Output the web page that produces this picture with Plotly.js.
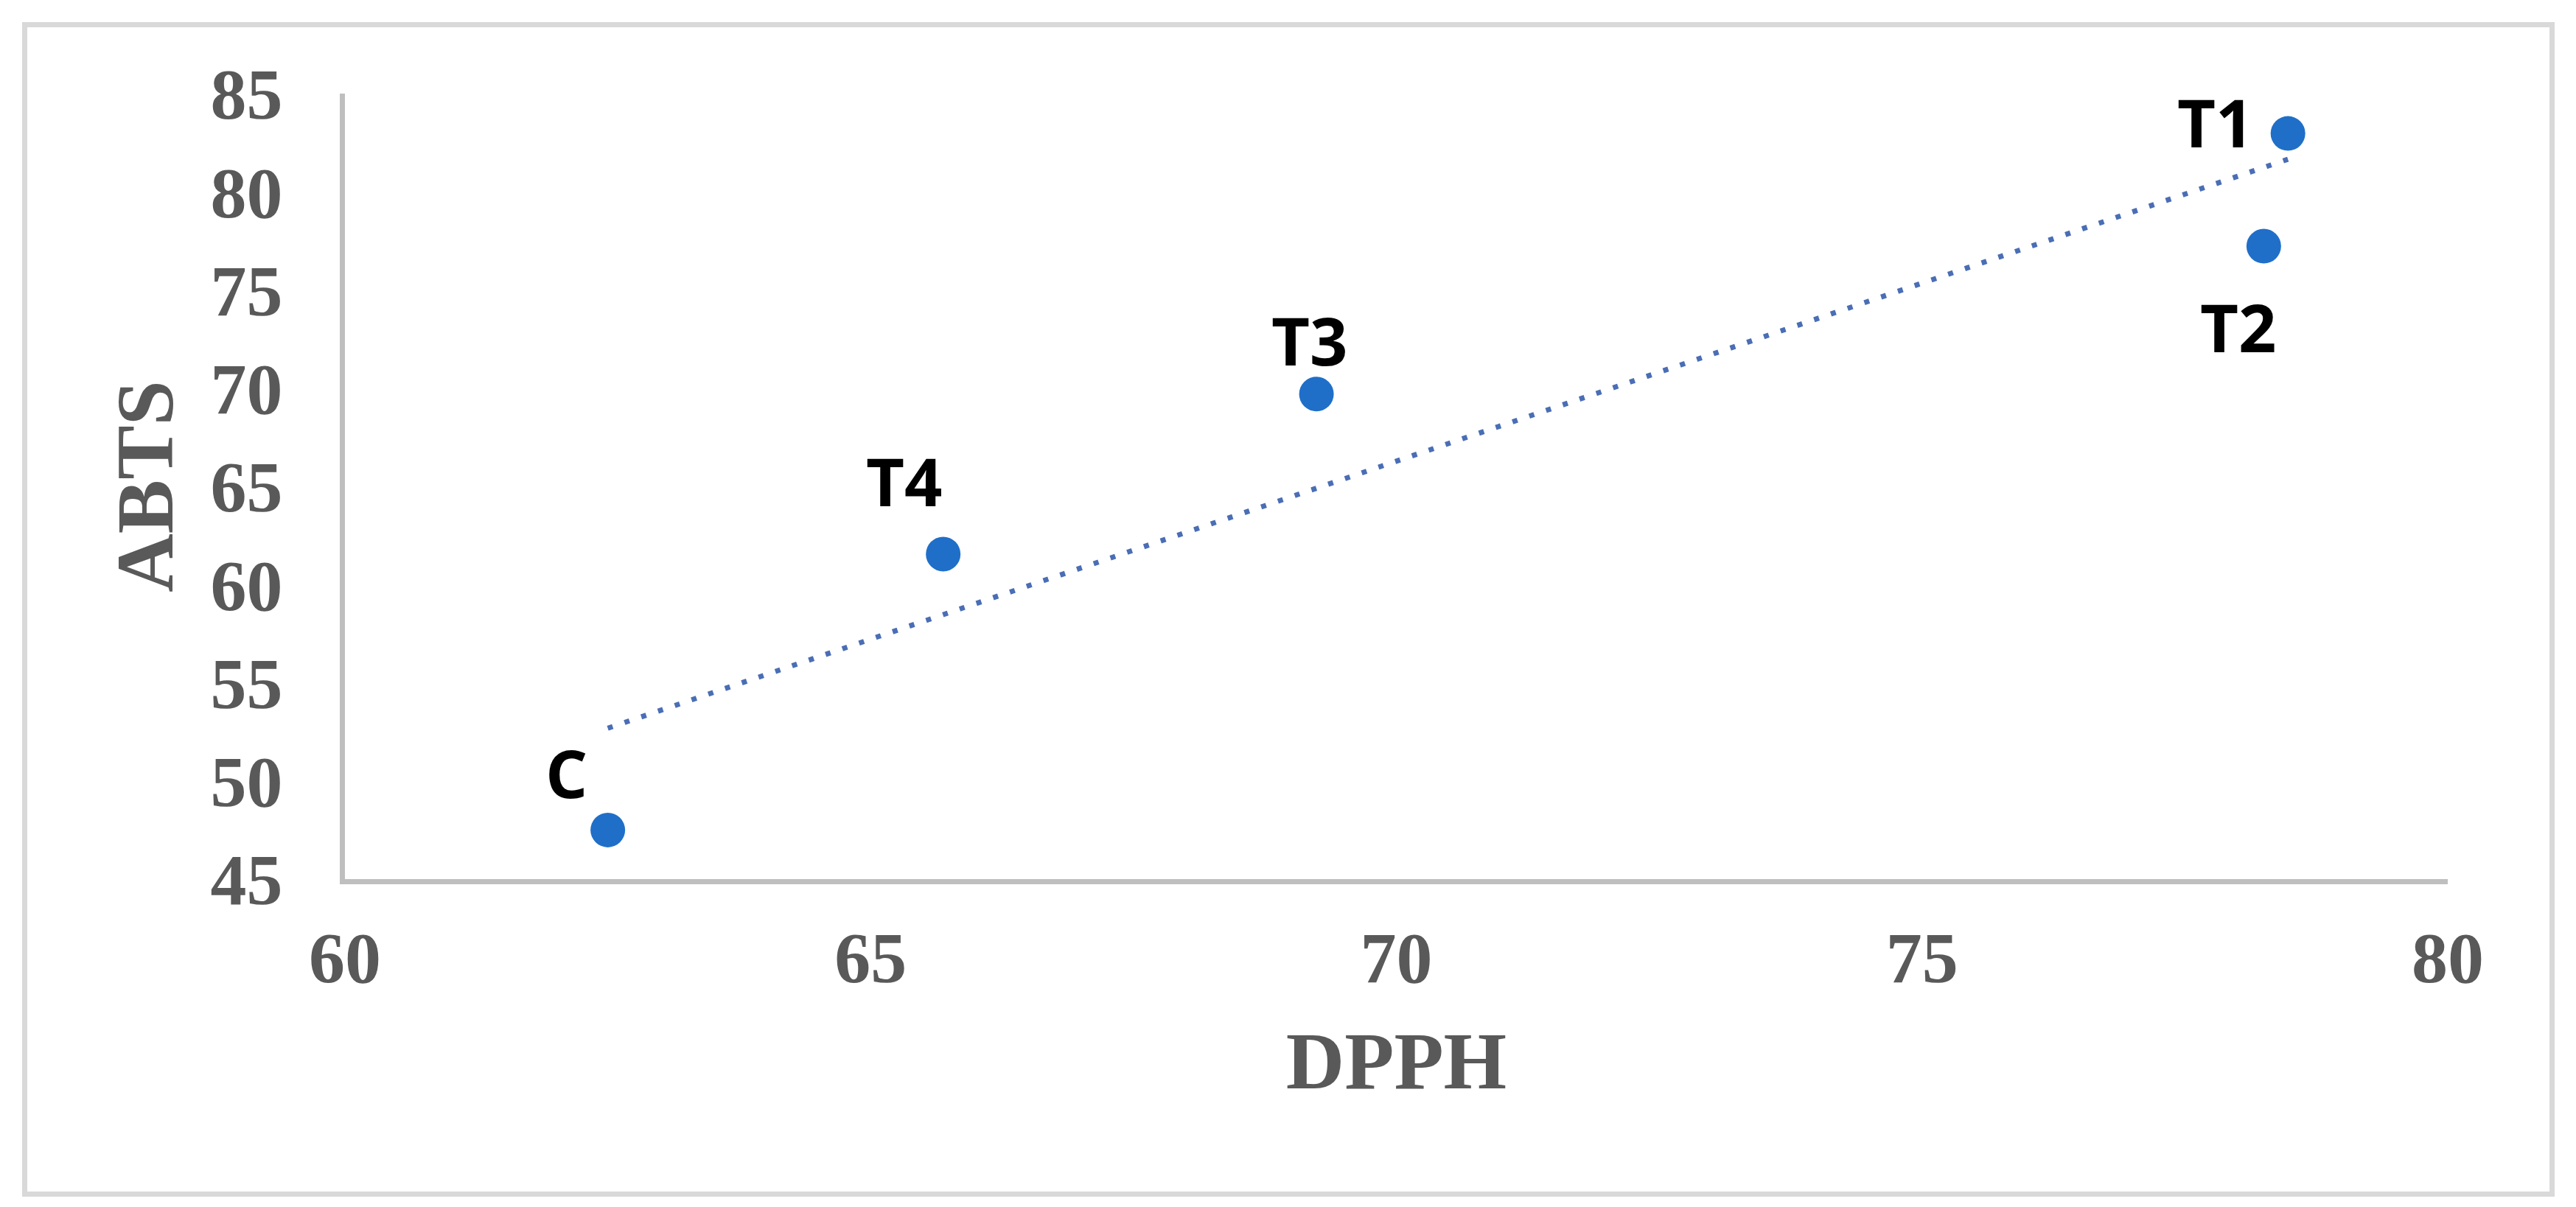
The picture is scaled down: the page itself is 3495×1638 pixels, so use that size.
<!DOCTYPE html>
<html>
<head>
<meta charset="utf-8">
<script src="https://cdn.plot.ly/plotly-3.0.1.min.js"></script>
<style>
  html, body { margin: 0; padding: 0; background: #ffffff; }
  #wrap { position: relative; width: 3495px; height: 1638px; }
  #chart { position: absolute; left: 0; top: 0; width: 3495px; height: 1638px; }
  #frame { position: absolute; left: 30px; top: 30px; width: 3422px; height: 1580px;
           border: 7px solid #d9d9d9; pointer-events: none; }
</style>
</head>
<body>
<div id="wrap">
  <div id="chart"></div>
  <div id="frame"></div>
</div>
<script>
// ---- data ----
const labels = ["C", "T4", "T3", "T2", "T1"];
const dpph   = [62.5, 65.69, 69.24, 78.25, 78.48];
const abts   = [47.5, 61.55, 69.7, 77.23, 82.97];
const xTicks = [60, 65, 70, 75, 80];
const yTicks = [45, 50, 55, 60, 65, 70, 75, 80, 85];

// ---- label placement (style, px offsets) ----
const labelShift = {
  "C":  [-56,  78],
  "T4": [-53, 100],
  "T3": [-9,   74],
  "T2": [-34, -109],
  "T1": [-98,  16]
};

// linear least-squares trendline from the data
const n = dpph.length;
const mx = dpph.reduce((a, b) => a + b, 0) / n;
const my = abts.reduce((a, b) => a + b, 0) / n;
let sxy = 0, sxx = 0;
for (let i = 0; i < n; i++) { sxy += (dpph[i] - mx) * (abts[i] - my); sxx += (dpph[i] - mx) ** 2; }
const slope = sxy / sxx, icpt = my - slope * mx;
const xMin = Math.min(...dpph), xMax = Math.max(...dpph);
const trendX = [xMin, xMax];
const trendY = trendX.map(x => icpt + slope * x);

const traces = [
  {
    x: trendX, y: trendY, type: "scatter", mode: "lines",
    line: { color: "#4a6eb5", width: 7, dash: "7px,17px" },
    hoverinfo: "skip", showlegend: false
  },
  {
    x: dpph, y: abts, type: "scatter", mode: "markers",
    marker: { color: "#1f6fc9", size: 47, line: { width: 0 } },
    showlegend: false
  }
];

const annotations = labels.map((t, i) => ({
  x: dpph[i], y: abts[i], xref: "x", yref: "y", text: t, showarrow: false,
  xshift: labelShift[t][0], yshift: labelShift[t][1],
  font: { family: "Open Sans, sans-serif", size: 90, color: "#000000", weight: "bold" }
}));

const tickFont = { family: "Liberation Serif, Times New Roman, serif", size: 98, color: "#595959", weight: "bold" };
const titleFont = { family: "Liberation Serif, Times New Roman, serif", size: 110, color: "#595959", weight: "bold" };

const layout = {
  width: 3495, height: 1638,
  margin: { l: 468, r: 174, t: 127, b: 445, pad: 0 },
  paper_bgcolor: "#ffffff", plot_bgcolor: "#ffffff",
  showlegend: false,
  xaxis: {
    range: [60, 80], tickvals: xTicks, ticktext: xTicks.map(String),
    showgrid: false, zeroline: false, showline: true, linecolor: "#bfbfbf", linewidth: 7,
    ticks: "", ticklabelstandoff: 15, tickfont: tickFont,
    title: { text: "DPPH", font: titleFont, standoff: 50 }
  },
  yaxis: {
    range: [45, 85], tickvals: yTicks, ticktext: yTicks.map(String),
    showgrid: false, zeroline: false, showline: true, linecolor: "#bfbfbf", linewidth: 7,
    ticks: "", ticklabelstandoff: 58, tickfont: tickFont,
    title: { text: "ABTS", font: titleFont, standoff: 16 }
  },
  annotations: annotations
};

Plotly.newPlot("chart", traces, layout, { displayModeBar: false, staticPlot: true });
</script>
</body>
</html>
